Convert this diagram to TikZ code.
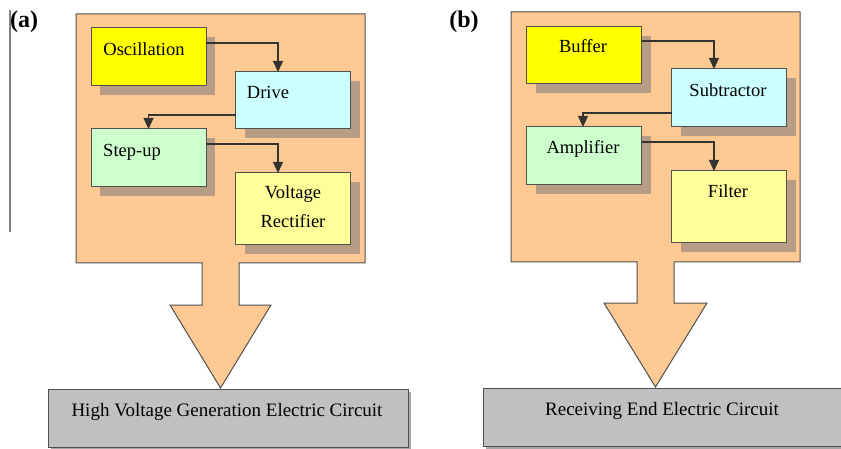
\documentclass[tikz,border=0pt]{standalone}
\usepackage{fontspec}
\setmainfont{Liberation Serif}
\usetikzlibrary{arrows.meta,shadows}
\definecolor{peach}{RGB}{255,201,147}
\definecolor{shadowc}{RGB}{184,157,134}
\definecolor{edgec}{RGB}{80,80,80}
\definecolor{yel}{RGB}{255,255,0}
\definecolor{cyanb}{RGB}{204,255,255}
\definecolor{greenb}{RGB}{204,255,204}
\definecolor{lyel}{RGB}{255,255,153}
\definecolor{grayb}{RGB}{192,192,192}
\definecolor{grayshadow}{RGB}{165,165,165}
\tikzset{
  blk/.style={draw=edgec, line width=1pt, inner sep=0pt, outer sep=0pt,
    minimum width=115pt, minimum height=57pt,
    general shadow={fill=shadowc, shadow xshift=9pt, shadow yshift=-9pt}},
  basebox/.style={draw=edgec, fill=grayb, line width=1pt, inner sep=0pt, outer sep=0pt,
    minimum width=360pt, minimum height=58pt,
    general shadow={fill=grayshadow, shadow xshift=3pt, shadow yshift=-3pt}},
  big/.style={draw=edgec, fill=peach, line width=1pt, line join=miter},
  txt/.style={anchor=base, inner sep=0pt, font=\fontsize{18.5}{22}\selectfont},
  btxt/.style={anchor=base, inner sep=0pt, font=\fontsize{19}{22}\selectfont},
  lbl/.style={anchor=base, inner sep=0pt, font=\fontsize{24}{28}\selectfont\bfseries},
  conn/.style={draw=black!80, line width=1.1pt, -{Triangle[width=10pt,length=11pt]}},
}
\begin{document}
\begin{tikzpicture}[x=1pt,y=-1pt]
\useasboundingbox (0,0) rectangle (841,449);
\clip (0,0) rectangle (841,449);
\fill[white] (0,0) rectangle (841,449);

% panel (a)
\coordinate (vlA) at (10,10);
\coordinate (vlB) at (10,232);
\draw[black!50, line width=2pt] (vlA) -- (vlB);
\node[lbl] (la) at (24,28) {(a)};
\draw[big] (76,14) -- (365,14) -- (365,263) -- (239,263) -- (239,305) -- (271,305)
  -- (220.5,388) -- (170,305) -- (202,305) -- (202,263) -- (76,263) -- cycle;

\node[blk, fill=yel, minimum height=58pt] (osc) at (148.5,57) {};
\node[blk, fill=cyanb] (drive) at (293,100.5) {};
\node[blk, fill=greenb, minimum height=58pt] (step) at (148.5,158) {};
\node[blk, fill=lyel, minimum height=72pt] (volt) at (293,209) {};
\node[txt] at (144,56) {Oscillation};
\node[txt] at (268,99) {Drive};
\node[txt] at (132,157) {Step-up};
\node[txt] at (293,199) {Voltage};
\node[txt] at (293,228) {Rectifier};

\draw[conn] ([yshift=-15pt]osc.north east) -| ([xshift=-15pt]drive.north);
\draw[conn] ([yshift=14pt]drive.south west) -| (step.north);
\draw[conn] ([yshift=-15pt]step.north east) -| ([xshift=-15pt]volt.north);

\node[basebox] (hv) at (228,418) {};
\node[btxt] at (227,416) {High Voltage Generation Electric Circuit};

% panel (b)
\node[lbl] (lb) at (464,28) {(b)};
\draw[big] (511,12) -- (800,12) -- (800,262) -- (674,262) -- (674,303) -- (707,303)
  -- (655.5,387) -- (604,303) -- (637,303) -- (637,262) -- (511,262) -- cycle;

\node[blk, fill=yel] (buf) at (584,55.5) {};
\node[blk, fill=cyanb, minimum height=58pt] (sub) at (729,98) {};
\node[blk, fill=greenb, minimum height=58pt] (amp) at (584,156) {};
\node[blk, fill=lyel, minimum height=72pt] (fil) at (729,207) {};
\node[txt] at (583,53) {Buffer};
\node[txt] at (728,97) {Subtractor};
\node[txt] at (583,154) {Amplifier};
\node[txt] at (728,198) {Filter};

\draw[conn] ([yshift=-14pt]buf.north east) -| ([xshift=-15pt]sub.north);
\draw[conn] ([yshift=14pt]sub.south west) -| ([xshift=-1pt]amp.north);
\draw[conn] ([yshift=-15pt]amp.north east) -| ([xshift=-15pt]fil.north);

\node[basebox] (rx) at (663,417) {};
\node[btxt] at (662,415) {Receiving End Electric Circuit};
\end{tikzpicture}
\end{document}
